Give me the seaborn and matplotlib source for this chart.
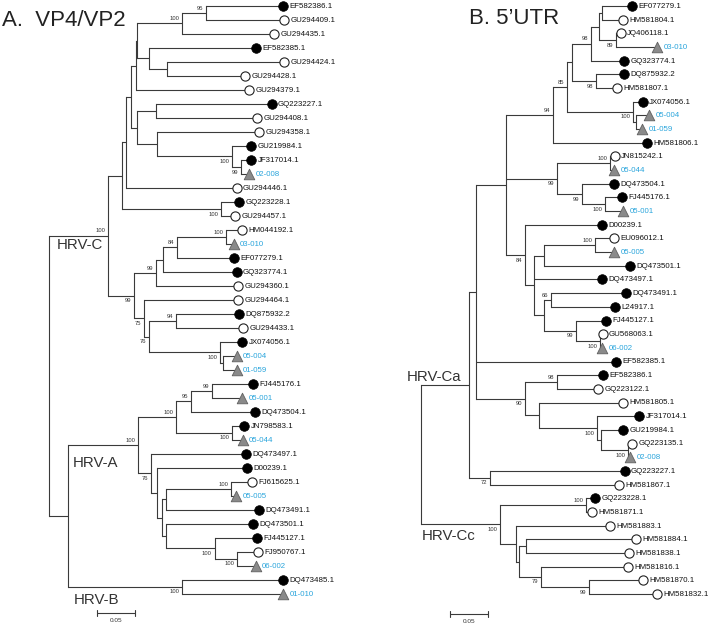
import matplotlib
matplotlib.use("Agg")
import matplotlib.pyplot as plt
import seaborn as sns
import pandas as pd

sns.set_theme(style="white")
plt.rcParams['font.family'] = ['Liberation Sans', 'DejaVu Sans']

# ---------------- Panel A: VP4/VP2 ----------------
A_names = ["EF582386.1", "GU294409.1", "GU294435.1", "EF582385.1", "GU294424.1",
           "GU294428.1", "GU294379.1", "GQ223227.1", "GU294408.1", "GU294358.1",
           "GU219984.1", "JF317014.1", "02-008", "GU294446.1", "GQ223228.1",
           "GU294457.1", "HM044192.1", "03-010", "EF077279.1", "GQ323774.1",
           "GU294360.1", "GU294464.1", "DQ875932.2", "GU294433.1", "JX074056.1",
           "05-004", "01-059", "FJ445176.1", "05-001", "DQ473504.1",
           "JN798583.1", "05-044", "DQ473497.1", "D00239.1", "FJ615625.1",
           "05-005", "DQ473491.1", "DQ473501.1", "FJ445127.1", "FJ950767.1",
           "06-002", "DQ473485.1", "01-010"]
A_kind = ["F", "O", "O", "F", "O", "O", "O", "F", "O", "O",
          "F", "F", "T", "O", "F", "O", "O", "T", "F", "F",
          "O", "O", "F", "O", "F", "T", "T", "F", "T", "F",
          "F", "T", "F", "F", "O", "T", "F", "F", "F", "O",
          "T", "F", "T"]
A_tip = [0.308, 0.309, 0.296, 0.272, 0.309, 0.258, 0.263, 0.293, 0.274, 0.276,
         0.266, 0.266, 0.263, 0.247, 0.250, 0.245, 0.254, 0.243, 0.243, 0.247,
         0.249, 0.249, 0.250, 0.255, 0.254, 0.247, 0.247, 0.268, 0.254, 0.271,
         0.257, 0.255, 0.259, 0.261, 0.267, 0.246, 0.276, 0.268, 0.274, 0.275,
         0.272, 0.308, 0.308]
# internal node: (depth, bootstrap, children...) ; ints are leaf indices
A_tree = (0.0, None,
          (0.078, 100,
           (0.096, None,
            (0.101, None,
             (0.108, None,
              (0.115, None,
               (0.116, None,
                (0.175, 100, (0.207, 95, 0, 1), 2),
                (0.132, None, 3, (0.155, None, 4, 5))),
               6),
              (0.116, None,
               (0.141, None, 7, 8),
               (0.142, None, 9, (0.241, 100, 10, (0.253, 99, 11, 12))))),
             13),
            (0.226, 100, 14, 15)),
           (0.112, 99,
            (0.141, 99,
             (0.150, None,
              (0.168, 84, (0.233, 100, 16, 17), 18),
              19),
             20),
            (0.125, 75,
             21,
             (0.132, 76,
              (0.167, 94, 22, 23),
              (0.225, 100, 24, (0.229, None, 25, 26)))))),
          (0.025, None,
           (0.117, 100,
            (0.167, 100,
             (0.187, 95, (0.214, 99, 27, 28), 29),
             (0.241, 100, 30, 31)),
            (0.134, 76,
             32,
             (0.142, None,
              33,
              (0.149, None,
               (0.154, None, (0.240, 100, 34, 35), 36),
               (0.154, None, 37, (0.218, 100, 38, (0.247, 100, 39, 40))))))),
           (0.175, 100, 41, 42)))
A_clades = [("HRV-C", 57, 245), ("HRV-A", 73, 463), ("HRV-B", 74, 600)]

# ---------------- Panel B: 5'UTR ----------------
B_names = ["EF077279.1", "HM581804.1", "JQ406118.1", "03-010", "GQ323774.1",
           "DQ875932.2", "HM581807.1", "JX074056.1", "05-004", "01-059",
           "HM581806.1", "JN815242.1", "05-044", "DQ473504.1", "FJ445176.1",
           "05-001", "D00239.1", "EU096012.1", "05-005", "DQ473501.1",
           "DQ473497.1", "DQ473491.1", "L24917.1", "FJ445127.1", "GU568063.1",
           "06-002", "EF582385.1", "EF582386.1", "GQ223122.1", "HM581805.1",
           "JF317014.1", "GU219984.1", "GQ223135.1", "02-008", "GQ223227.1",
           "HM581867.1", "GQ223228.1", "HM581871.1", "HM581883.1", "HM581884.1",
           "HM581838.1", "HM581816.1", "HM581870.1", "HM581832.1"]
B_kind = ["F", "O", "O", "T", "F", "F", "O", "F", "T", "T",
          "F", "O", "T", "F", "F", "T", "F", "O", "T", "F",
          "F", "F", "F", "F", "O", "T", "F", "F", "O", "O",
          "F", "F", "O", "T", "F", "O", "F", "O", "O", "O",
          "O", "O", "O", "O"]
B_tip = [0.278, 0.266, 0.263, 0.311, 0.267, 0.267, 0.258, 0.292, 0.300, 0.291,
         0.297, 0.255, 0.254, 0.254, 0.264, 0.266, 0.238, 0.254, 0.254, 0.275,
         0.238, 0.270, 0.255, 0.243, 0.239, 0.238, 0.257, 0.239, 0.233, 0.266,
         0.287, 0.266, 0.278, 0.275, 0.268, 0.261, 0.229, 0.225, 0.249, 0.283,
         0.274, 0.272, 0.292, 0.311]
B_tree = (0.0, None,
          (0.063, None,
           (0.072, None,
            (0.112, None,
             (0.174, 94,
              (0.192, 85,
               (0.199, None,
                (0.224, 98,
                 (0.234, None, (0.238, None, 0, 1), (0.257, 89, 2, 3)),
                 4),
                (0.230, 98, 5, 6)),
               (0.279, 100, 7, (0.283, None, 8, 9))),
              10),
             (0.179, 99,
              (0.249, 100, 11, 12),
              (0.212, 99, 13, (0.242, 100, 14, 15))),
             (0.137, 84,
              16,
              (0.149, None,
               (0.162, None, (0.229, 100, 17, 18), 19),
               20,
               (0.162, None,
                (0.171, 66, 21, 22),
                (0.204, 99, 23, (0.236, 100, 24, 25)))))),
            26,
            (0.137, 90,
             (0.179, 98, 27, 28),
             (0.155, None, 29,
              (0.232, 100, 30, (0.237, None, 31, (0.272, 100, 32, 33)))))),
           (0.091, 72, 34, 35)),
          (0.104, 100,
           (0.217, 100, 36, 37),
           (0.125, None,
            38,
            (0.129, None,
             (0.138, None, 39, 40),
             (0.158, 79, 41, (0.221, 99, 42, 43))))))
B_clades = [("HRV-Ca", 407, 377), ("HRV-Cc", 422, 536)]

SCALE_LEN = 0.05
PX_PER_UNIT = 760.0
W, H = 708, 624
LINE_C = "#3a3a3a"
BLUE = "#2aa5dc"


def layout(node, tips, hsegs, vsegs, labels, first=True):
    if isinstance(node, int):
        return tips[node], float(node)
    d, sup = node[0], node[1]
    ys = []
    for k, ch in enumerate(node[2:]):
        cx, cy = layout(ch, tips, hsegs, vsegs, labels, first=(k == 0))
        hsegs.append((cy, d, cx))
        ys.append(cy)
    vsegs.append((d, min(ys), max(ys)))
    y = (ys[0] + ys[-1]) / 2.0
    if sup is not None:
        labels.append((d, y, sup, first))
    return d, y


def draw_tree(ax, names, kinds, tips, tree, root_px, spacing):
    hsegs, vsegs, labels = [], [], []
    layout(tree, tips, hsegs, vsegs, labels)
    for y, x0, x1 in hsegs:
        ax.plot([x0, x1], [y, y], color=LINE_C, lw=0.8, solid_capstyle="butt", zorder=1)
    for x, y0, y1 in vsegs:
        ax.plot([x, x], [y0, y1], color=LINE_C, lw=0.8, solid_capstyle="projecting", zorder=1)
    df = pd.DataFrame({"name": names, "kind": kinds, "x": tips,
                       "y": list(range(len(names)))})
    styles = {"F": dict(marker="o", color="black", edgecolor="black", s=48, linewidth=0.5),
              "O": dict(marker="o", color="white", edgecolor="#222222", s=44, linewidth=0.8),
              "T": dict(marker="^", color="#8a8a8a", edgecolor="#606060", s=58, linewidth=0.6)}
    for k, st in styles.items():
        sub = df[df["kind"] == k]
        sns.scatterplot(data=sub, x="x", y="y", ax=ax, legend=False, zorder=3,
                        clip_on=False, **st)
    for _, r in df.iterrows():
        col = BLUE if r["kind"] == "T" else "#111111"
        ax.annotate(r["name"], (r["x"], r["y"]), xytext=(4.6, -0.3),
                    textcoords="offset points", ha="left", va="center",
                    fontsize=5.65, color=col, annotation_clip=False)
    for x, y, sup, first in labels:
        ax.annotate(str(sup), (x, y), xytext=(-2.0, 3.4 if first else -3.6),
                    textcoords="offset points", ha="right", va="center",
                    fontsize=4.2, color="#333333", annotation_clip=False)
    ax.set_xlim(-root_px / PX_PER_UNIT, (W - root_px) / PX_PER_UNIT)
    ax.set_ylim((H - 6) / spacing, -6 / spacing)
    ax.axis("off")


fig = plt.figure(figsize=(W / 100, H / 100), dpi=100)
axA = fig.add_axes([0, 0, 1, 1])
axB = fig.add_axes([0, 0, 1, 1])
axB.patch.set_alpha(0)

spA = 588.0 / (len(A_names) - 1)
spB = 588.0 / (len(B_names) - 1)
draw_tree(axA, A_names, A_kind, A_tip, A_tree, 49, spA)
draw_tree(axB, B_names, B_kind, B_tip, B_tree, 421, spB)


def scale_bar(ax, x0px, root_px, ypx, spacing):
    x0 = (x0px - root_px) / PX_PER_UNIT
    y = (ypx - 6) / spacing
    t = 0.22
    ax.plot([x0, x0 + SCALE_LEN], [y, y], color=LINE_C, lw=0.8, clip_on=False)
    ax.plot([x0, x0], [y - t, y + t], color=LINE_C, lw=0.8, clip_on=False)
    ax.plot([x0 + SCALE_LEN, x0 + SCALE_LEN], [y - t, y + t], color=LINE_C, lw=0.8, clip_on=False)
    ax.annotate(f"{SCALE_LEN:.2f}", (x0 + SCALE_LEN / 2, y), xytext=(0, -5.5),
                textcoords="offset points", ha="center", va="center",
                fontsize=4.6, color="#333333", annotation_clip=False)


scale_bar(axA, 97, 49, 613, spA)
scale_bar(axB, 450, 421, 614, spB)

for txt, xp, yp in A_clades + B_clades:
    fig.text(xp / W, 1 - yp / H, txt, fontsize=10.8, color="#333333",
             ha="left", va="center")

fig.text(2 / W, 1 - 20 / H, "A.  VP4/VP2", fontsize=16, color="#222222",
         ha="left", va="center")
fig.text(469 / W, 1 - 19 / H, "B. 5\u2019UTR", fontsize=16, color="#222222",
         ha="left", va="center")

fig.savefig("out.png", dpi=100, facecolor="white")
